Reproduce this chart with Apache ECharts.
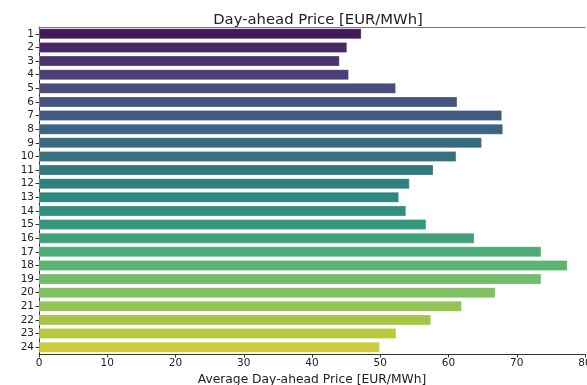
<!DOCTYPE html>
<html>
<head>
<meta charset="utf-8">
<script src="https://cdn.jsdelivr.net/npm/echarts@6/dist/echarts.min.js"></script>
<style>
html,body{margin:0;padding:0;background:#fff;}
#chart{width:587px;height:385px;}
</style>
</head>
<body>
<div id="chart"></div>
<script>
const hours = ['1','2','3','4','5','6','7','8','9','10','11','12','13','14','15','16','17','18','19','20','21','22','23','24'];
const prices = [47.25, 45.15, 44.05, 45.4, 52.3, 61.3, 67.85, 68.0, 64.9, 61.15, 57.8, 54.3, 52.75, 53.8, 56.75, 63.8, 73.6, 77.45, 73.6, 66.9, 61.95, 57.45, 52.35, 49.95];
const xTicks = [0, 10, 20, 30, 40, 50, 60, 70, 80];

// viridis colormap stops (for styling only)
const viridisStops = ['#440154','#482475','#414487','#355f8d','#2a788e','#21918c','#22a884','#44bf70','#7ad151','#bddf26','#fde725'];
function hexToRgb(h){return [parseInt(h.slice(1,3),16)/255,parseInt(h.slice(3,5),16)/255,parseInt(h.slice(5,7),16)/255];}
function viridis(t){
  const p = t*(viridisStops.length-1); const i = Math.min(Math.floor(p), viridisStops.length-2); const f = p-i;
  const a = hexToRgb(viridisStops[i]), b = hexToRgb(viridisStops[i+1]);
  return [a[0]+(b[0]-a[0])*f, a[1]+(b[1]-a[1])*f, a[2]+(b[2]-a[2])*f];
}
function desaturate(rgb, prop){
  let [r,g,b]=rgb; const mx=Math.max(r,g,b), mn=Math.min(r,g,b); const l=(mx+mn)/2;
  let h=0,s=0;
  if(mx!==mn){const d=mx-mn; s = l>0.5 ? d/(2-mx-mn) : d/(mx+mn);
    if(mx===r) h=((g-b)/d + (g<b?6:0)); else if(mx===g) h=(b-r)/d+2; else h=(r-g)/d+4; h/=6;}
  s*=prop;
  function hue2rgb(p,q,t){if(t<0)t+=1;if(t>1)t-=1;if(t<1/6)return p+(q-p)*6*t;if(t<1/2)return q;if(t<2/3)return p+(q-p)*(2/3-t)*6;return p;}
  if(s===0) return [l,l,l];
  const q = l<0.5 ? l*(1+s) : l+s-l*s, pp = 2*l-q;
  return [hue2rgb(pp,q,h+1/3), hue2rgb(pp,q,h), hue2rgb(pp,q,h-1/3)];
}
function toHex(rgb){return '#'+rgb.map(v=>Math.round(v*255).toString(16).padStart(2,'0')).join('');}
const n = hours.length;
const colors = hours.map((_,i)=>toHex(desaturate(viridis((i+1)/(n+1)),0.75)));

const chart = echarts.init(document.getElementById('chart'));
const font = 'DejaVu Sans';
chart.setOption({
  animation:false,
  backgroundColor:'#fff',
  title:{text:'Day-ahead Price [EUR/MWh]', left:313, textAlign:'center', top:8,
    textStyle:{fontFamily:font, fontSize:14.8, fontWeight:'normal', color:'#222'}},
  grid:{left:39, right:2, top:27, bottom:31, containLabel:false, outerBoundsMode:'none', show:false},
  xAxis:[{type:'value', min:0, max:80, interval:10,
    name:'Average Day-ahead Price [EUR/MWh]', nameLocation:'middle', nameGap:14,
    nameTextStyle:{fontFamily:font, fontSize:12.3, color:'#222'},
    axisLine:{show:true, lineStyle:{color:'#333'}},
    axisTick:{show:true, length:3.5, lineStyle:{color:'#333'}},
    axisLabel:{fontFamily:font, fontSize:10.5, color:'#222', margin:4,
      formatter:v=>xTicks.includes(v)?String(v):''},
    splitLine:{show:false}},
   {type:'value', position:'top', min:0, max:80,
    axisLine:{show:true, lineStyle:{color:'#777'}},
    axisTick:{show:false}, axisLabel:{show:false}, splitLine:{show:false}}],
  yAxis:{type:'category', data:hours, inverse:true,
    axisLine:{show:true, lineStyle:{color:'#333'}},
    axisTick:{show:true, alignWithLabel:true, interval:0, length:3.5, lineStyle:{color:'#333'}},
    axisLabel:{fontFamily:font, fontSize:10.5, color:'#222', margin:5, interval:0}},
  series:[{type:'bar', xAxisIndex:0, data:prices.map((v,i)=>({value:v, itemStyle:{color:colors[i]}})),
    barCategoryGap:'20%',
    itemStyle:{borderColor:'rgba(255,255,255,0.35)', borderWidth:0.8}}]
});
</script>
</body>
</html>
